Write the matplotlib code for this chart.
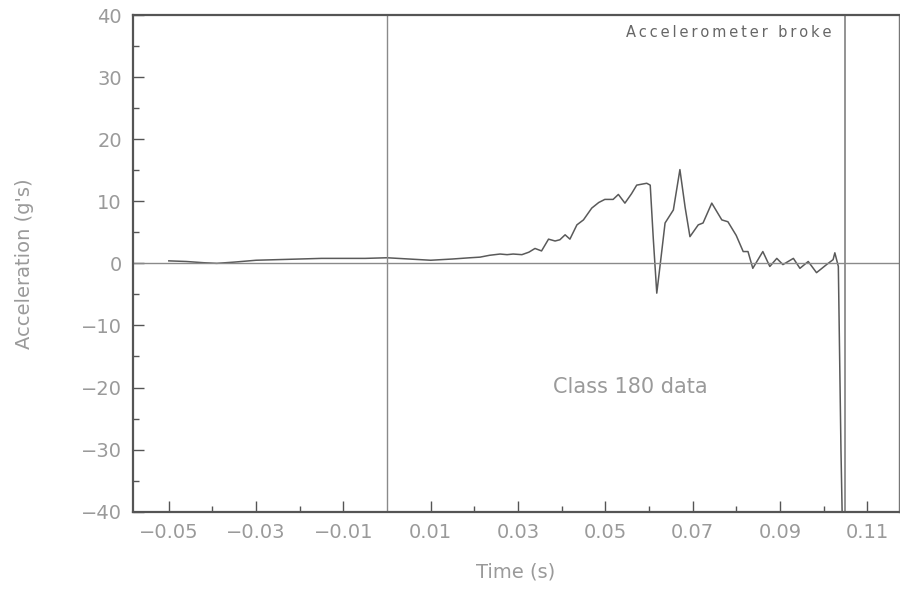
import matplotlib
matplotlib.use("Agg")
import matplotlib.pyplot as plt
from matplotlib.ticker import MultipleLocator, FixedLocator

# Data
time_s = [-0.050, -0.046, -0.042, -0.039, -0.035, -0.030, -0.025, -0.020, -0.015,
          -0.010, -0.005, 0.000, 0.005, 0.010, 0.015, 0.019, 0.0213, 0.0235,
          0.0259, 0.0275, 0.0289, 0.0309, 0.0325, 0.0339, 0.0354, 0.0370, 0.0385,
          0.0396, 0.0408, 0.0419, 0.0435, 0.0450, 0.0469, 0.0485, 0.0499, 0.0518,
          0.0530, 0.0545, 0.0560, 0.0572, 0.0595, 0.0603, 0.0610, 0.0618, 0.0627,
          0.0637, 0.0656, 0.0671, 0.0683, 0.0694, 0.0713, 0.0724, 0.0744, 0.0767,
          0.0781, 0.0800, 0.0816, 0.0827, 0.0838, 0.0861, 0.0877, 0.0893, 0.0907,
          0.0931, 0.0946, 0.0965, 0.0984, 0.1007, 0.1022, 0.1026, 0.1034, 0.1040,
          0.1044]
accel_g = [0.4, 0.3, 0.1, 0.0, 0.2, 0.5, 0.6, 0.7, 0.8,
           0.8, 0.8, 0.9, 0.7, 0.5, 0.7, 0.9, 1.0, 1.3,
           1.5, 1.4, 1.5, 1.4, 1.8, 2.4, 2.0, 3.9, 3.6,
           3.8, 4.6, 3.9, 6.2, 7.0, 8.9, 9.8, 10.3, 10.3,
           11.1, 9.7, 11.2, 12.6, 12.9, 12.6, 4.0, -4.8, 0.5,
           6.5, 8.6, 15.1, 9.0, 4.3, 6.2, 6.5, 9.7, 7.0,
           6.7, 4.5, 1.9, 1.9, -0.8, 1.9, -0.5, 0.8, -0.2,
           0.8, -0.8, 0.3, -1.5, -0.2, 0.6, 1.7, -0.5, -30.0,
           -45.0]

x_major_ticks = [-0.05, -0.03, -0.01, 0.01, 0.03, 0.05, 0.07, 0.09, 0.11]
x_tick_labels = ["\u22120.05", "\u22120.03", "\u22120.01", "0.01", "0.03", "0.05", "0.07", "0.09", "0.11"]
y_major_ticks = [-40, -30, -20, -10, 0, 10, 20, 30, 40]
y_tick_labels = ["\u221240", "\u221230", "\u221220", "\u221210", "0", "10", "20", "30", "40"]
break_time = 0.105
note_text = "Accelerometer broke"

text_color = "#9a9a9a"
line_color = "#5a5a5a"

fig = plt.figure(figsize=(9, 5.94), dpi=100)
ax = fig.add_axes([0.1478, 0.1386, 0.8511, 0.8361])

ax.plot(time_s, accel_g, color=line_color, lw=1.1)
ax.axhline(0, color="#8a8a8a", lw=1.0)
ax.axvline(0, color="#8a8a8a", lw=1.0)
ax.axvline(break_time, color="#8a8a8a", lw=1.3)

ax.set_xlim(-0.0582, 0.1173)
ax.set_ylim(-40, 40)

ax.xaxis.set_major_locator(FixedLocator(x_major_ticks))
ax.set_xticklabels(x_tick_labels)
ax.xaxis.set_minor_locator(FixedLocator([-0.04, -0.02, 0.02, 0.04, 0.06, 0.08, 0.10]))
ax.yaxis.set_major_locator(FixedLocator(y_major_ticks))
ax.set_yticklabels(y_tick_labels)
ax.yaxis.set_minor_locator(MultipleLocator(5))

ax.tick_params(which="major", direction="in", length=8, width=1.0, color="#555555",
               labelsize=14, labelcolor=text_color, pad=8)
ax.tick_params(which="minor", direction="in", length=4, width=1.0, color="#555555")

for side in ["left", "bottom", "top"]:
    ax.spines[side].set_linewidth(1.6)
    ax.spines[side].set_color("#555555")
ax.spines["right"].set_linewidth(1.0)
ax.spines["right"].set_color("#777777")

ax.set_xlabel("Time (s)", fontsize=14, color=text_color, labelpad=15)
ax.set_ylabel("Acceleration (g's)", fontsize=14, color=text_color, labelpad=34)

spaced = "\u2009".join(note_text).replace("\u2009 \u2009", "\u2009\u2009 ")
ax.text(0.0784, 37.2, spaced,
        fontsize=10.5, color="#666666", ha="center", va="center")
ax.text(0.0557, -19.9, "Class 180 data", fontsize=15, color=text_color,
        ha="center", va="center")

fig.savefig("out.png", dpi=100, facecolor="white")
